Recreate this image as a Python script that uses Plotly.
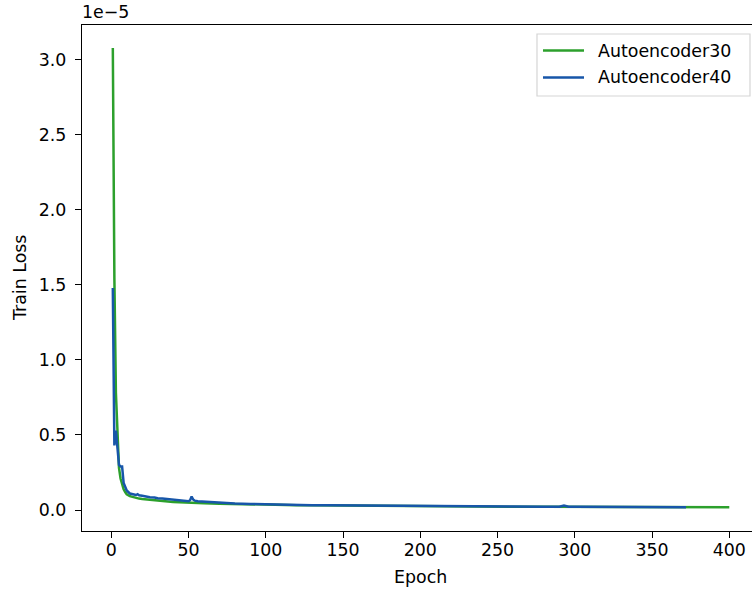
import plotly.graph_objects as go

# ---- data (loss values in units of 1e-5) ----
epochs_ae30 = [1, 2, 3, 4, 5, 6, 7, 8, 9, 10, 12, 14, 16, 18, 20, 23, 26, 30, 35, 40,
               45, 50, 55, 60, 70, 80, 90, 100, 110, 120, 130, 140, 150, 160, 170,
               180, 190, 200, 220, 240, 260, 280, 300, 320, 340, 360, 380, 400]
loss_ae30 = [3.08, 1.55, 0.78, 0.45, 0.28, 0.21, 0.165, 0.138, 0.12, 0.105, 0.092,
             0.085, 0.080, 0.076, 0.073, 0.069, 0.066, 0.062, 0.058, 0.054, 0.051,
             0.049, 0.047, 0.045, 0.042, 0.039, 0.037, 0.035, 0.033, 0.032, 0.031,
             0.030, 0.029, 0.028, 0.027, 0.026, 0.026, 0.025, 0.024, 0.023, 0.022,
             0.022, 0.021, 0.020, 0.020, 0.019, 0.019, 0.018]

epochs_ae40 = [1, 2, 3, 4, 5, 6, 7, 8, 9, 10, 11, 12, 14, 16, 17, 18, 20, 22, 25, 28,
               30, 33, 36, 40, 44, 48, 50, 51, 52, 53, 54, 56, 60, 65, 70, 80, 90,
               100, 110, 120, 130, 140, 150, 160, 170, 180, 190, 200, 220, 240, 260,
               280, 290, 293, 296, 300, 320, 340, 360, 372]
loss_ae40 = [1.48, 0.43, 0.53, 0.38, 0.30, 0.29, 0.29, 0.18, 0.15, 0.13, 0.12, 0.11,
             0.105, 0.10, 0.105, 0.098, 0.095, 0.090, 0.085, 0.083, 0.078, 0.076,
             0.072, 0.068, 0.064, 0.061, 0.058, 0.065, 0.090, 0.070, 0.062, 0.058,
             0.055, 0.050, 0.047, 0.043, 0.040, 0.037, 0.035, 0.033, 0.032, 0.031,
             0.030, 0.029, 0.028, 0.027, 0.027, 0.026, 0.025, 0.024, 0.023, 0.022,
             0.022, 0.030, 0.022, 0.021, 0.021, 0.020, 0.019, 0.019]

series_names = ["Autoencoder30", "Autoencoder40"]
series_colors = ["#2ca02c", "#1756a9"]
x_tick_vals = [0, 50, 100, 150, 200, 250, 300, 350, 400]
y_tick_vals = [0.0, 0.5, 1.0, 1.5, 2.0, 2.5, 3.0]
y_tick_text = ["0.0", "0.5", "1.0", "1.5", "2.0", "2.5", "3.0"]

FONT = "DejaVu Sans"
FS = 17.4
LW = 2.5
AX_W = 1.35

fig = go.Figure()
fig.add_trace(go.Scatter(x=epochs_ae30, y=loss_ae30, mode="lines", name=series_names[0],
                         line=dict(color=series_colors[0], width=LW)))
fig.add_trace(go.Scatter(x=epochs_ae40, y=loss_ae40, mode="lines", name=series_names[1],
                         line=dict(color=series_colors[1], width=LW)))

W, H = 752, 591
PLOT_L, PLOT_T, PLOT_B = 82, 25, 531   # window pixels
L, T, B, R = PLOT_L, PLOT_T, H - PLOT_B, 0
PW = W - L - R
PH = H - T - B

fig.update_layout(
    width=W, height=H,
    margin=dict(l=L, r=R, t=T, b=B, pad=0),
    paper_bgcolor="white", plot_bgcolor="white",
    font=dict(family=FONT, size=FS, color="black"),
    showlegend=False,
    xaxis=dict(range=[-18.95, 414.7], tickvals=x_tick_vals, ticks="outside",
               ticklen=6, tickwidth=AX_W, tickcolor="black",
               showline=True, linecolor="black", linewidth=AX_W, mirror=True,
               showgrid=False, zeroline=False, ticklabelstandoff=-3),
    yaxis=dict(range=[-0.14, 3.233], tickvals=y_tick_vals, ticktext=y_tick_text,
               ticks="outside", ticklen=6, tickwidth=AX_W, tickcolor="black",
               showline=True, linecolor="black", linewidth=AX_W, mirror=False,
               showgrid=False, zeroline=False, ticklabelstandoff=5),
)


def px(xabs):
    return (xabs - L) / PW


def py(yabs):
    return 1 - (yabs - T) / PH


fig.add_annotation(text="Epoch", xref="paper", yref="paper",
                   x=px(420), y=py(577), showarrow=False,
                   xanchor="center", yanchor="middle", font=dict(size=FS))
fig.add_annotation(text="Train Loss", xref="paper", yref="paper",
                   x=px(20), y=py(278), showarrow=False,
                   textangle=-90, xanchor="center", yanchor="middle", font=dict(size=FS))
fig.add_annotation(text="1e\u22125", xref="paper", yref="paper",
                   x=px(80), y=py(12), showarrow=False,
                   xanchor="left", yanchor="middle", font=dict(size=FS))

# legend box (matplotlib style)
fig.add_shape(type="rect", xref="paper", yref="paper",
              x0=px(537), x1=px(750), y0=py(34), y1=py(96),
              line=dict(color="#d5d5d5", width=1.2), fillcolor="rgba(255,255,255,0.8)")
row_y = [50.5, 77.5]
for name, color, ry in zip(series_names, series_colors, row_y):
    fig.add_shape(type="line", xref="paper", yref="paper",
                  x0=px(543), x1=px(584), y0=py(ry), y1=py(ry),
                  line=dict(color=color, width=LW))
    fig.add_annotation(text=name, xref="paper", yref="paper",
                       x=px(596), y=py(ry), showarrow=False,
                       xanchor="left", yanchor="middle", font=dict(size=FS))

fig.write_html("out.html", config={"displayModeBar": False},
               post_script="document.body.style.margin='0';document.body.style.overflow='hidden';")
